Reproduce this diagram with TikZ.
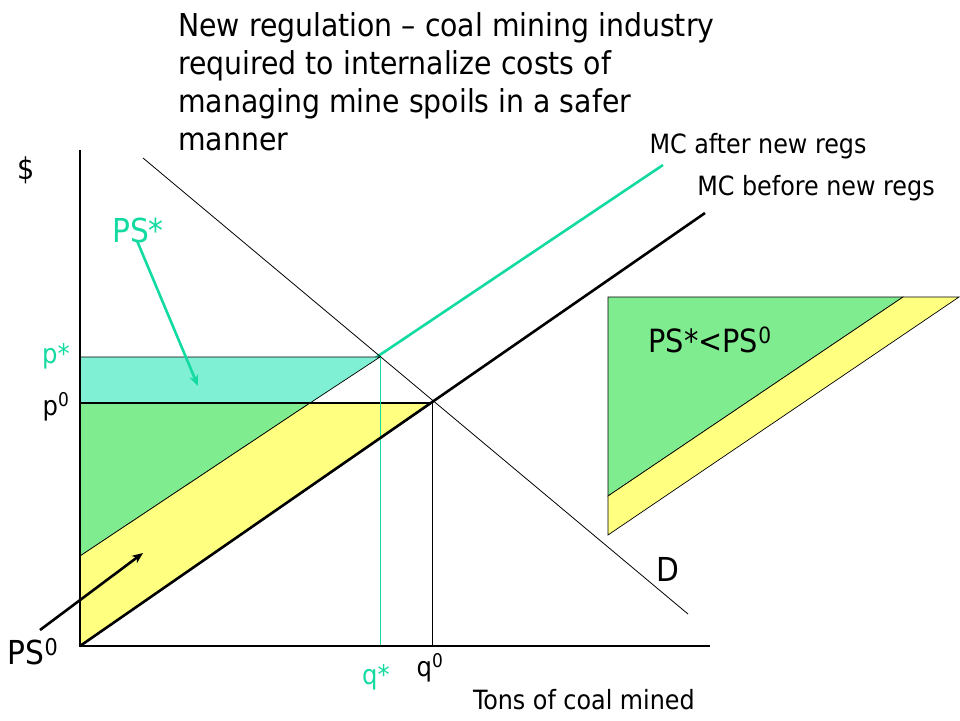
\documentclass[tikz,border=0pt]{standalone}
\usepackage{fontspec}
\setmainfont{DejaVu Sans Condensed}
\usetikzlibrary{positioning, arrows.meta, calc}
\definecolor{mcteal}{RGB}{18,218,160}
\definecolor{fillteal}{RGB}{127,240,212}
\definecolor{fillgreen}{RGB}{128,236,144}
\definecolor{fillyellow}{RGB}{255,255,128}
\tikzset{
  axis/.style={line width=2.6pt},
  curve/.style={line width=2.6pt},
  thinline/.style={line width=0.8pt},
  area/.style={draw=black, line width=0.7pt},
  lbl/.style={inner sep=0pt, font=\fontsize{26.5}{30}\selectfont},
  small/.style={inner sep=0pt, font=\fontsize{27}{30}\selectfont},
  biglbl/.style={inner sep=0pt, font=\fontsize{33}{38}\selectfont},
  pointer/.style={line width=2.6pt, -{Stealth[length=11pt, width=9pt]}}
}
\begin{document}
\begin{tikzpicture}[x=1pt, y=-1pt]
    \useasboundingbox (0,0) rectangle (960,720);
    % key points
    \coordinate (O) at (80,646);
    \coordinate (ytop) at (80,150);
    \coordinate (xend) at (710,646);
    \coordinate (e0) at (432,403);
    \coordinate (estar) at (380,357);
    \coordinate (cut) at (310,403);
    \coordinate (mc1start) at (80,556);

    \draw[mcteal, curve] (mc1start) -- (663,165);
    \draw[thinline] (143,158) -- (688,614);

    % surplus areas
    \filldraw[area, fill=fillteal] (80,357) -- (estar) -- (cut) -- (80,403) -- cycle;
    \filldraw[area, fill=fillgreen] (80,403) -- (cut) -- (mc1start) -- cycle;
    \filldraw[area, fill=fillyellow] (mc1start) -- (cut) -- (e0) -- (O) -- cycle;

    \draw[line width=1.8pt] (80,403) -- (e0);
    \draw[mcteal, thinline] (estar) -- (estar |- O);
    \draw[thinline] (e0) -- (e0 |- O);
    \draw[curve] (O) -- (705,213);
    \draw[axis] (ytop) -- (O) -- (xend);

    % inset
    \filldraw[area, fill=fillgreen] (608,297) -- (903,297) -- (608,496) -- cycle;
    \filldraw[area, fill=fillyellow] (903,297) -- (959,297) -- (608,535) -- (608,496) -- cycle;

    % labels
    \node[anchor=north west, align=left, inner sep=0pt, font=\fontsize{31.5}{38}\selectfont] (title) at (178,12)
      {New regulation -- coal mining industry\\required to internalize costs of\\managing mine spoils in a safer\\manner};
    \node[biglbl, font=\fontsize{30}{34}\selectfont] (dollar) at (26,170) {\$};
    \node[biglbl, mcteal] (psstar) at (138,230) {PS*};
    \node[small, mcteal] (pstar) at (56,356) {p*};
    \node[small] (pzero) at (56,407) {p\textsuperscript{0}};
    \node[biglbl] (pszero) at (33,652) {PS\textsuperscript{0}};
    \node[small, mcteal] (qstar) at (376,677) {q*};
    \node[small] (qzero) at (430,668) {q\textsuperscript{0}};
    \node[lbl] (xlabel) at (584,700) {Tons of coal mined};
    \node[biglbl] (dlabel) at (668,569) {D};
    \node[lbl] (mcafter) at (758,146) {MC after new regs};
    \node[lbl] (mcbefore) at (816,188) {MC before new regs};
    \node[biglbl, font=\fontsize{32}{36}\selectfont] (compare) at (710,340) {PS*<PS\textsuperscript{0}};

    \coordinate (psstartip) at (198,386);
    \coordinate (pszerotail) at (40,630);
    \coordinate (pszerotip) at (143,553);
    \draw[pointer, mcteal] (psstar.south) ++(-1,-2) -- (psstartip);
    \draw[pointer] (pszerotail) -- (pszerotip);
\end{tikzpicture}
\end{document}
